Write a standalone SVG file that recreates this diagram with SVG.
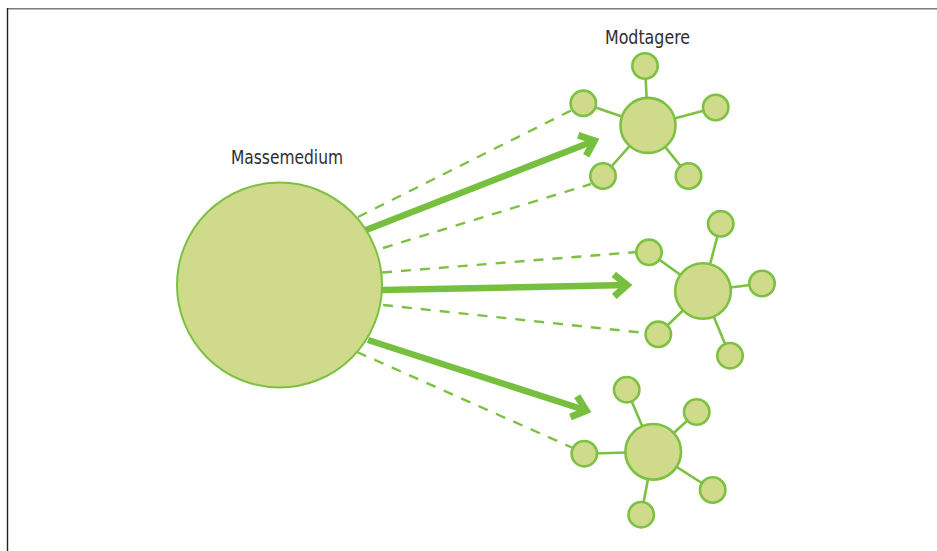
<svg xmlns="http://www.w3.org/2000/svg" width="937" height="551" viewBox="0 0 937 551">
  <style>
    .frame-top { stroke: #7d7d7d; stroke-width: 1.6; }
    .frame-left { stroke: #222; stroke-width: 1.4; }
    .label { font-family: "DejaVu Sans Condensed", "Liberation Sans", sans-serif; font-stretch: condensed; font-size: 19px; fill: #2e2e2e; text-anchor: middle; }
    .hub { fill: #cfdb8b; stroke: #7cc142; stroke-width: 2; }
    .center { fill: #cfdb8b; stroke: #7cc142; stroke-width: 2.6; }
    .sat { fill: #cfdb8b; stroke: #7cc142; stroke-width: 2.6; }
    .spoke { stroke: #7cc142; stroke-width: 2.6; }
    .dash { stroke: #7cc142; stroke-width: 2.4; stroke-dasharray: 10 9; fill: none; }
    .arrow { stroke: #76bf3f; stroke-width: 6.5; fill: none; marker-end: url(#chevron); }
  </style>
  <defs>
    <marker id="chevron" markerUnits="userSpaceOnUse" orient="auto" refX="0" refY="0" markerWidth="40" markerHeight="40" viewBox="-20 -20 40 40" overflow="visible">
      <path d="M-13,-11 L0,0 L-13,11" fill="none" stroke="#76bf3f" stroke-width="7" stroke-linejoin="miter" stroke-miterlimit="10"/>
    </marker>
  </defs>

  <rect width="937" height="551" fill="#fff"/>
  <line class="frame-top" x1="7" y1="8.8" x2="937" y2="8.8"/>
  <line class="frame-left" x1="7.5" y1="8" x2="7.5" y2="551"/>

  <!-- connectors: dashed lines and broadcast arrows -->
  <g id="connectors">
    <line class="dash" x1="358" y1="217" x2="572" y2="110"/>
    <line class="dash" x1="383" y1="248" x2="591" y2="184"/>
    <line class="dash" x1="382" y1="272.5" x2="637" y2="252"/>
    <line class="dash" x1="383" y1="305" x2="645" y2="333"/>
    <line class="dash" x1="357" y1="352" x2="573" y2="448"/>
    <line class="arrow" x1="366" y1="230" x2="594.3" y2="140.8"/>
    <line class="arrow" x1="382" y1="290" x2="627" y2="285.1"/>
    <line class="arrow" x1="368" y1="340" x2="586.2" y2="410.5"/>
  </g>

  <!-- sender -->
  <g id="massemedium">
    <circle class="hub" cx="279.5" cy="285" r="102.5"/>
    <text class="label" x="287" y="164" textLength="112" lengthAdjust="spacingAndGlyphs">Massemedium</text>
  </g>

  <!-- receivers -->
  <g id="modtagere-label">
    <text class="label" x="647.5" y="43.5" textLength="85" lengthAdjust="spacingAndGlyphs">Modtagere</text>
  </g>

  <g id="receiver-1">
    <line class="spoke" x1="648" y1="125.4" x2="645" y2="66"/>
    <line class="spoke" x1="648" y1="125.4" x2="583.3" y2="103.3"/>
    <line class="spoke" x1="648" y1="125.4" x2="715.7" y2="107.5"/>
    <line class="spoke" x1="648" y1="125.4" x2="603" y2="176"/>
    <line class="spoke" x1="648" y1="125.4" x2="688.5" y2="176"/>
    <circle class="center" cx="648" cy="125.4" r="27.5"/>
    <circle class="sat" cx="645" cy="66" r="12.7"/>
    <circle class="sat" cx="583.3" cy="103.3" r="12.7"/>
    <circle class="sat" cx="715.7" cy="107.5" r="12.7"/>
    <circle class="sat" cx="603" cy="176" r="12.7"/>
    <circle class="sat" cx="688.5" cy="176" r="12.7"/>
  </g>

  <g id="receiver-2">
    <line class="spoke" x1="703" y1="291" x2="720.7" y2="223.8"/>
    <line class="spoke" x1="703" y1="291" x2="649" y2="252.3"/>
    <line class="spoke" x1="703" y1="291" x2="762" y2="283.5"/>
    <line class="spoke" x1="703" y1="291" x2="658.3" y2="334.3"/>
    <line class="spoke" x1="703" y1="291" x2="730" y2="355.7"/>
    <circle class="center" cx="703" cy="291" r="27.8"/>
    <circle class="sat" cx="720.7" cy="223.8" r="12.7"/>
    <circle class="sat" cx="649" cy="252.3" r="12.7"/>
    <circle class="sat" cx="762" cy="283.5" r="12.7"/>
    <circle class="sat" cx="658.3" cy="334.3" r="12.7"/>
    <circle class="sat" cx="730" cy="355.7" r="12.7"/>
  </g>

  <g id="receiver-3">
    <line class="spoke" x1="653.2" y1="451.8" x2="626.7" y2="389.7"/>
    <line class="spoke" x1="653.2" y1="451.8" x2="696.7" y2="412"/>
    <line class="spoke" x1="653.2" y1="451.8" x2="584.3" y2="453.7"/>
    <line class="spoke" x1="653.2" y1="451.8" x2="712.7" y2="490"/>
    <line class="spoke" x1="653.2" y1="451.8" x2="641.2" y2="514.7"/>
    <circle class="center" cx="653.2" cy="451.8" r="27.8"/>
    <circle class="sat" cx="626.7" cy="389.7" r="12.7"/>
    <circle class="sat" cx="696.7" cy="412" r="12.7"/>
    <circle class="sat" cx="584.3" cy="453.7" r="12.7"/>
    <circle class="sat" cx="712.7" cy="490" r="12.7"/>
    <circle class="sat" cx="641.2" cy="514.7" r="12.7"/>
  </g>
</svg>
